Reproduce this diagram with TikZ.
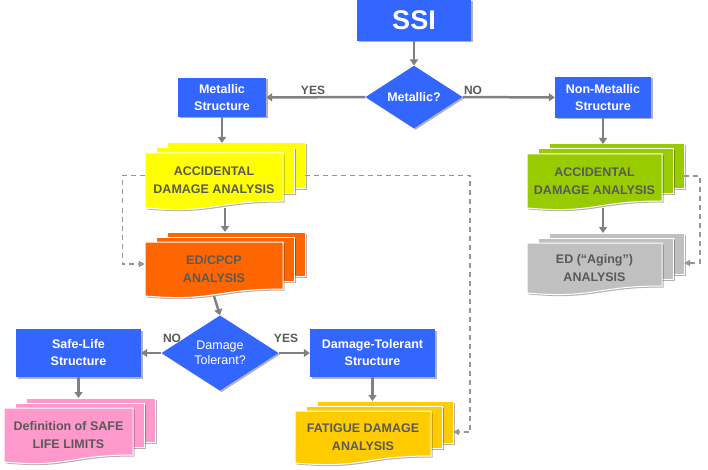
\documentclass[tikz,border=0pt]{standalone}
\usepackage{fontspec}
\setmainfont{Liberation Sans}
\usetikzlibrary{shapes.geometric,arrows.meta,shadows}

\definecolor{ssiblue}{RGB}{51,102,255}
\definecolor{arrgray}{RGB}{128,128,128}
\definecolor{dashgray}{RGB}{150,150,150}
\definecolor{txtgray}{RGB}{89,89,89}
\definecolor{accyellow}{RGB}{255,255,0}
\definecolor{edorange}{RGB}{255,102,0}
\definecolor{nmgreen}{RGB}{153,204,0}
\definecolor{aginggray}{RGB}{192,192,192}
\definecolor{safepink}{RGB}{255,153,204}
\definecolor{fatgold}{RGB}{255,204,0}

\tikzset{
  box/.style={rectangle, fill=ssiblue, text=white, align=center, inner sep=0pt,
    font=\bfseries\fontsize{12.5}{17}\selectfont,
    drop shadow={shadow xshift=1.5pt, shadow yshift=-1.5pt, fill=black, opacity=.3}},
  question/.style={diamond, fill=ssiblue, text=white, align=center, inner sep=0pt,
    font=\fontsize{12.5}{15}\selectfont,
    drop shadow={shadow xshift=1.5pt, shadow yshift=-1.5pt, fill=black, opacity=.3}},
  sheet/.style={draw=white, line width=1pt,
    drop shadow={shadow xshift=1.5pt, shadow yshift=-1.5pt, fill=black, opacity=.3}},
  sheettext/.style={inner sep=0pt, align=center, text=txtgray,
    font=\bfseries\fontsize{12.5}{18}\selectfont},
  lbl/.style={inner sep=0pt, text=txtgray, font=\bfseries\fontsize{12}{14}\selectfont},
  arr/.style={draw=arrgray, line width=2.5pt, -{Triangle[length=6pt,width=8pt]}},
  dashline/.style={draw=dashgray, line width=1.3pt, dash pattern=on 5pt off 4pt,
    -{Triangle[length=6pt,width=6pt]}}
}

% stack of three sheets: name, left, top, width, height, colour, text
\newcommand{\docstack}[7]{%
  \fill[sheet, fill=#6] ({#2+22},{#3-10}) rectangle ++(#4,{0.82*#5});
  \fill[sheet, fill=#6] ({#2+11},{#3-5}) rectangle ++(#4,{0.82*#5});
  \fill[sheet, fill=#6] (#2,#3) -- ++(#4,0) -- ++(0,{#5-7})
    .. controls ++({-0.5*#4},0) and ({#2+0.5*#4},{#3+#5+6}) .. (#2,{#3+#5}) -- cycle;
  \node[sheettext, minimum width=#4, minimum height=#5] (#1) at ({#2+0.5*#4},{#3+0.5*#5}) {#7};
  \coordinate (#1-top) at ({#2+0.5*#4+22},{#3-10});
  \coordinate (#1-right) at ({#2+#4+22},{#3+0.5*#5-5});
}

\begin{document}
\begin{tikzpicture}[x=1pt, y=-1pt]

  % Bounding box of the scheme
  \useasboundingbox (0,0) rectangle (708,470);

  %%%%%%%%%%%%%%%%%%%%%%%%%%%%%%%%% Decisions and structures %%%%%%%%%%%%%%%%%%%%%%%%%%%%%%%%%%%%
  \node[box, minimum width=114, minimum height=41, font=\bfseries\fontsize{27}{30}\selectfont] (ssi) at (414,20.5) {SSI};
  \node[question, minimum width=97, minimum height=49, font=\bfseries\fontsize{12.5}{15}\selectfont] (metq) at (414,97) {Metallic?};
  \node[box, minimum width=88, minimum height=39] (metal) at (222,97.5) {Metallic\\Structure};
  \node[box, minimum width=96, minimum height=41] (nonmetal) at (603,97.5) {Non-Metallic\\Structure};
  \node[question, minimum width=117, minimum height=57] (dtq) at (220,353) {Damage\\Tolerant?};
  \node[box, minimum width=125, minimum height=48] (safelife) at (78.5,353) {Safe-Life\\Structure};
  \node[box, minimum width=125, minimum height=48] (dtol) at (372.5,353) {Damage-Tolerant\\Structure};

  %%%%%%%%%%%%%%%%%%%%%%%%%%%%%%%%% Analyses %%%%%%%%%%%%%%%%%%%%%%%%%%%%%%%%%%%%
  \docstack{acc}{145}{153}{138}{55}{accyellow}{ACCIDENTAL\\DAMAGE ANALYSIS}
  \docstack{edcpcp}{145}{242}{138}{54}{edorange}{ED/CPCP\\ANALYSIS}
  \docstack{accnm}{527}{154}{135}{54}{nmgreen}{ACCIDENTAL\\DAMAGE ANALYSIS}
  \docstack{aging}{527}{243}{135}{50}{aginggray}{ED (“Aging”)\\ANALYSIS}
  \docstack{safelim}{4}{408}{129}{54}{safepink}{Definition of SAFE\\LIFE LIMITS}
  \docstack{fatigue}{295}{411}{136}{52}{fatgold}{FATIGUE DAMAGE\\ANALYSIS}

  %%%%%%%%%%%%%%%%%%%%%%%%%%%%%%%%% Connectors %%%%%%%%%%%%%%%%%%%%%%%%%%%%%%%%%%%%
  \draw[arr] (ssi) -- (metq);
  \draw[arr] (metq) -- (metal);
  \draw[arr] (metq) -- (nonmetal);
  \draw[arr] (metal) -- (metal |- acc-top);
  \draw[arr] (nonmetal) -- (nonmetal |- accnm-top);
  \draw[arr] ([xshift=3pt]metal.south |- acc.south) -- ([xshift=3pt]metal.south |- edcpcp-top);
  \draw[arr] (nonmetal |- accnm.south) -- (nonmetal |- aging-top);
  \draw[arr] (edcpcp.south) -- (dtq.north);
  \draw[arr] (dtq) -- (safelife);
  \draw[arr] (dtq) -- (dtol);
  \draw[arr] (safelife) -- (safelife |- safelim-top);
  \draw[arr] (dtol) -- (dtol |- fatigue-top);

  \draw[dashline] ([yshift=5pt]acc.west) -- ++(-22,0) |- ([yshift=5pt]edcpcp.west);
  \draw[dashline] (acc-right) -| ([xshift=17pt]fatigue-right) -- (fatigue-right);
  \draw[dashline] (accnm-right) -| ([xshift=16pt]aging-right) -- (aging-right);

  % yes / no labels
  \node[lbl] (yesmet) at (313,90.5) {YES};
  \node[lbl] (nomet) at (473,90.5) {NO};
  \node[lbl] (nodt) at (172,338) {NO};
  \node[lbl] (yesdt) at (286,338) {YES};

\end{tikzpicture}
\end{document}
